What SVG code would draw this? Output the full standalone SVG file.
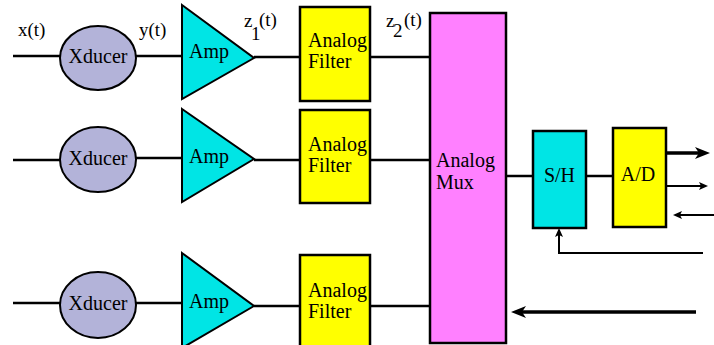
<svg xmlns="http://www.w3.org/2000/svg" width="714" height="345" viewBox="0 0 714 345">
<style>
  .wire{fill:none;stroke:#000;stroke-width:2.5}
  .thick{fill:none;stroke:#000;stroke-width:3.4}
  .thin{fill:none;stroke:#000;stroke-width:2}
  .xd{fill:#b3b3d9;stroke:#000;stroke-width:2}
  .amp{fill:#00e5e5;stroke:#000;stroke-width:2}
  .flt{fill:#ffff00;stroke:#000;stroke-width:2.5}
  .mux{fill:#ff80ff;stroke:#000;stroke-width:2.5}
  .sh{fill:#00e5e5;stroke:#000;stroke-width:2.5}
  .t{font-family:"Liberation Serif","Times New Roman",serif;font-size:20px;fill:#000}
  .lb{font-family:"Liberation Serif","Times New Roman",serif;font-size:19px;fill:#000}
</style>
<defs>
  <marker id="big" markerUnits="userSpaceOnUse" markerWidth="16" markerHeight="14" viewBox="0 -7 16 14" refX="5" refY="0" orient="auto">
    <path d="M0,-6 L15,0 L0,6 L4,0 z" fill="#000"/>
  </marker>
  <marker id="small" markerUnits="userSpaceOnUse" markerWidth="10" markerHeight="10" viewBox="0 -5 10 10" refX="3" refY="0" orient="auto">
    <path d="M0,-4 L9,0 L0,4 L2,0 z" fill="#000"/>
  </marker>
</defs>

<g id="connectors">
  <line class="wire" x1="13" y1="56" x2="60" y2="56"/>
  <line class="wire" x1="136" y1="56" x2="182" y2="56"/>
  <line class="wire" x1="254" y1="57" x2="300" y2="57"/>
  <line class="wire" x1="370" y1="57" x2="430" y2="57"/>

  <line class="wire" x1="13" y1="160" x2="60" y2="160"/>
  <line class="wire" x1="136" y1="158" x2="182" y2="158"/>
  <line class="wire" x1="254" y1="160" x2="300" y2="160"/>
  <line class="wire" x1="370" y1="160" x2="430" y2="160"/>

  <line class="wire" x1="13" y1="303" x2="60" y2="303"/>
  <line class="wire" x1="136" y1="303" x2="182" y2="303"/>
  <line class="wire" x1="254" y1="306" x2="300" y2="306"/>
  <line class="wire" x1="370" y1="306" x2="430" y2="306"/>

  <line class="wire" x1="506" y1="176" x2="533" y2="176"/>
  <line class="wire" x1="586" y1="176" x2="613" y2="176"/>

  <line class="thick" x1="666" y1="153" x2="700" y2="153" marker-end="url(#big)"/>
  <line class="thin" x1="666" y1="186" x2="702" y2="186" marker-end="url(#small)"/>
  <line class="thin" x1="714" y1="215" x2="679" y2="215" marker-end="url(#small)"/>
  <path class="thin" d="M703,253 L559,253 L559,234" marker-end="url(#small)"/>
  <line class="thick" x1="696" y1="312" x2="521" y2="312" marker-end="url(#big)"/>
</g>

<g id="labels">
  <text class="lb" x="18" y="36">x(t)</text>
  <text class="lb" x="139" y="36">y(t)</text>
  <text class="lb"><tspan x="244" y="27">z</tspan><tspan x="251" y="40">1</tspan><tspan x="259" y="26">(t)</tspan></text>
  <text class="lb"><tspan x="386" y="27">z</tspan><tspan x="393" y="37">2</tspan><tspan x="404" y="26">(t)</tspan></text>
</g>

<g id="xducer1"><ellipse class="xd" cx="98" cy="58" rx="38" ry="32"/><text class="t" x="98" y="63" text-anchor="middle">Xducer</text></g>
<g id="xducer2"><ellipse class="xd" cx="98" cy="159.5" rx="38" ry="32.5"/><text class="t" x="98" y="165" text-anchor="middle">Xducer</text></g>
<g id="xducer3"><ellipse class="xd" cx="98" cy="305" rx="38" ry="33"/><text class="t" x="98" y="310" text-anchor="middle">Xducer</text></g>

<g id="amp1"><polygon class="amp" points="182,5 254,58 182,99"/><text class="t" x="189" y="58">Amp</text></g>
<g id="amp2"><polygon class="amp" points="182,109 254,159 182,202"/><text class="t" x="189" y="163">Amp</text></g>
<g id="amp3"><polygon class="amp" points="182,253 254,306 182,348"/><text class="t" x="189" y="308">Amp</text></g>

<g id="filter1"><rect class="flt" x="300" y="7" width="70" height="94"/><text class="t" x="308" y="47">Analog</text><text class="t" x="308" y="68">Filter</text></g>
<g id="filter2"><rect class="flt" x="300" y="110" width="70" height="93"/><text class="t" x="308" y="151">Analog</text><text class="t" x="308" y="172">Filter</text></g>
<g id="filter3"><rect class="flt" x="300" y="255" width="70" height="95"/><text class="t" x="308" y="297">Analog</text><text class="t" x="308" y="318">Filter</text></g>

<g id="mux"><rect class="mux" x="430" y="13" width="76" height="330"/><text class="t" x="436" y="167">Analog</text><text class="t" x="436" y="189">Mux</text></g>

<g id="sh"><rect class="sh" x="533" y="131" width="53" height="97"/><text class="t" x="559.5" y="182" text-anchor="middle">S/H</text></g>

<g id="ad"><rect class="flt" x="613" y="128" width="53" height="99"/><text class="t" x="638" y="181" text-anchor="middle">A/D</text></g>
</svg>
